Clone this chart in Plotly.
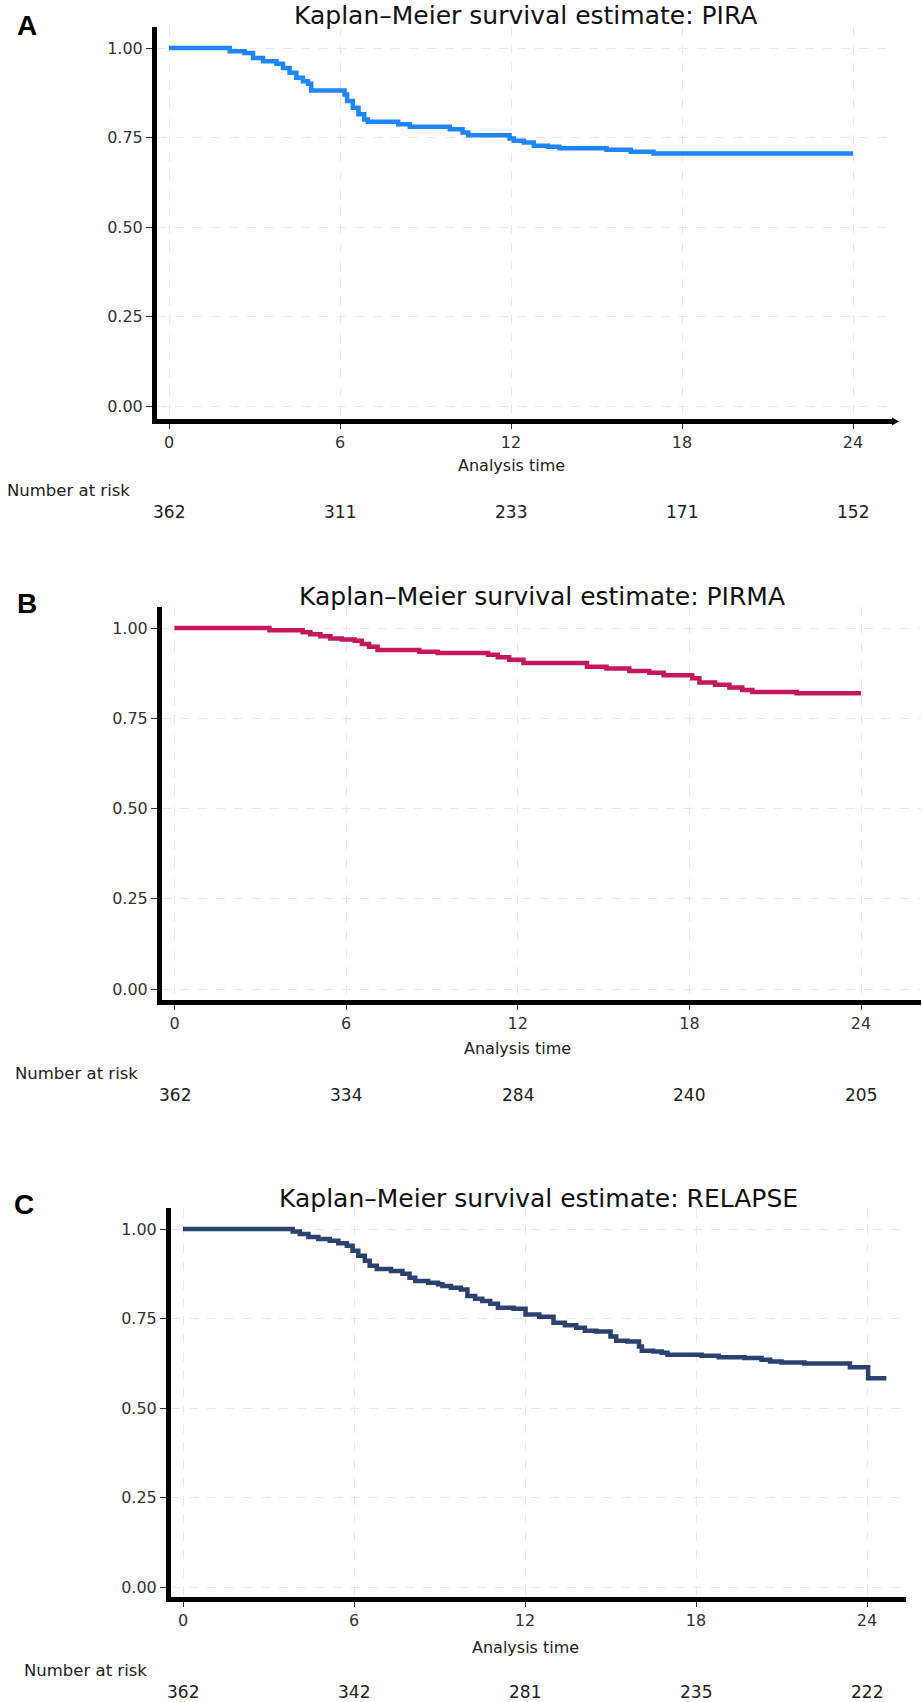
import plotly.graph_objects as go

# ---------------- data ----------------
# Kaplan-Meier step points: time (months) at which the survival estimate changes, value after the change
pira_time = [0, 2.13, 2.65, 2.95, 3.3, 3.77, 4.0, 4.23, 4.47, 4.70, 4.88, 4.99, 6.16, 6.25, 6.45,
             6.65, 6.85, 6.98, 8.04, 8.45, 9.85, 10.3, 10.5, 11.95, 12.1, 12.45, 12.8, 13.3, 13.7,
             15.35, 16.2, 17.0, 24.0]
pira_surv = [1.0, 0.991, 0.986, 0.972, 0.963, 0.956, 0.944, 0.931, 0.917, 0.907, 0.900, 0.881, 0.870,
             0.852, 0.833, 0.815, 0.800, 0.794, 0.787, 0.780, 0.773, 0.764, 0.756, 0.747, 0.741, 0.736,
             0.727, 0.724, 0.720, 0.716, 0.710, 0.705, 0.705]

pirma_time = [0, 3.32, 4.48, 4.75, 5.1, 5.45, 5.85, 6.3, 6.55, 6.8, 7.1, 8.56, 9.2, 10.96, 11.3, 11.7,
              12.2, 14.42, 15.1, 15.9, 16.6, 17.1, 18.1, 18.35, 18.9, 19.4, 19.85, 20.2, 21.75, 24.0]
pirma_surv = [1.0, 0.994, 0.988, 0.983, 0.977, 0.971, 0.968, 0.965, 0.956, 0.948, 0.939, 0.934, 0.931,
              0.926, 0.919, 0.912, 0.903, 0.893, 0.888, 0.881, 0.876, 0.869, 0.861, 0.849, 0.843, 0.835,
              0.828, 0.823, 0.819, 0.819]

relapse_time = [0, 3.85, 4.1, 4.4, 4.75, 5.15, 5.45, 5.75, 5.95, 6.15, 6.38, 6.55, 6.8, 7.3, 7.7, 7.95,
                8.15, 8.6, 8.95, 9.1, 9.4, 9.75, 9.98, 10.25, 10.5, 10.78, 11.05, 11.6, 12.02, 12.5, 13.0,
                13.4, 13.8, 14.1, 14.5, 15.0, 15.2, 15.6, 16.0, 16.1, 16.5, 16.8, 17.0, 18.2, 18.8, 19.7,
                20.3, 20.6, 21.0, 21.8, 23.4, 24.04, 24.68]
relapse_surv = [1.0, 0.993, 0.986, 0.978, 0.972, 0.967, 0.960, 0.953, 0.939, 0.925, 0.911, 0.897, 0.888,
                0.883, 0.875, 0.864, 0.855, 0.850, 0.846, 0.841, 0.836, 0.831, 0.813, 0.805, 0.799, 0.791,
                0.780, 0.777, 0.761, 0.755, 0.738, 0.731, 0.724, 0.716, 0.714, 0.700, 0.688, 0.686, 0.672,
                0.660, 0.658, 0.654, 0.649, 0.646, 0.642, 0.640, 0.635, 0.630, 0.627, 0.624, 0.614, 0.583,
                0.583]

risk_times = [0, 6, 12, 18, 24]
pira_at_risk = [362, 311, 233, 171, 152]
pirma_at_risk = [362, 334, 284, 240, 205]
relapse_at_risk = [362, 342, 281, 235, 222]

y_ticks = [0, 0.25, 0.5, 0.75, 1.0]
y_tick_text = ["0.00", "0.25", "0.50", "0.75", "1.00"]
x_ticks = [0, 6, 12, 18, 24]

panel_letters = ["A", "B", "C"]
titles = ["Kaplan–Meier survival estimate: PIRA",
          "Kaplan–Meier survival estimate: PIRMA",
          "Kaplan–Meier survival estimate: RELAPSE"]
colors = ["#1F86FF", "#C4185A", "#2B4170"]

# ---------------- layout geometry (pixels) ----------------
W, H = 922, 1702
geom = [
    dict(left=157, right=893, top=27, bottom=419, x0=169, x24=853, y1=48, y0=406, arrow=True,
         letter=(27, 26), title_y=16, tick_y=439, axt_y=465, nr_x=5, nr_y=490, num_y=512),
    dict(left=162, right=921, top=607, bottom=1000, x0=174.5, x24=861, y1=628, y0=989, arrow=False,
         letter=(27, 604), title_y=596, tick_y=1022, axt_y=1048, nr_x=13, nr_y=1073, num_y=1095),
    dict(left=171, right=906, top=1208, bottom=1597, x0=183, x24=867, y1=1229, y0=1587, arrow=False,
         letter=(24, 1204), title_y=1198, tick_y=1620, axt_y=1647, nr_x=22, nr_y=1670, num_y=1692),
]

series = [(pira_time, pira_surv, pira_at_risk),
          (pirma_time, pirma_surv, pirma_at_risk),
          (relapse_time, relapse_surv, relapse_at_risk)]

FONT = "DejaVu Sans"
fig = go.Figure()
annotations = []
shapes = []
layout_axes = {}

for i, (g, (t, s, nr)) in enumerate(zip(geom, series)):
    n = "" if i == 0 else str(i + 1)
    ppm = (g["x24"] - g["x0"]) / 24.0
    xr = [(g["left"] - g["x0"]) / ppm, (g["right"] - g["x0"]) / ppm]
    ppu = g["y0"] - g["y1"]
    yr = [-(g["bottom"] - g["y0"]) / ppu, 1 + (g["y1"] - g["top"]) / ppu]

    fig.add_trace(go.Scatter(x=t, y=s, mode="lines", line=dict(color=colors[i], width=4.5, shape="hv"),
                             xaxis="x" + n, yaxis="y" + n, showlegend=False, hoverinfo="skip"))

    layout_axes["xaxis" + n] = dict(
        domain=[g["left"] / W, g["right"] / W], range=xr, anchor="y" + n,
        tickvals=x_ticks, ticktext=[str(v) for v in x_ticks], ticks="outside", ticklen=5,
        tickwidth=1, tickcolor="#333333", showline=True, linecolor="black", linewidth=5,
        showgrid=True, gridcolor="#E8E8E8", griddash="dash", gridwidth=1, zeroline=False,
        tickfont=dict(family=FONT, size=16, color="#333333"), fixedrange=True)
    layout_axes["yaxis" + n] = dict(
        domain=[1 - g["bottom"] / H, 1 - g["top"] / H], range=yr, anchor="x" + n,
        tickvals=y_ticks, ticktext=y_tick_text, ticks="outside", ticklen=6, tickwidth=1,
        tickcolor="#333333", showline=True, linecolor="black", linewidth=5,
        showgrid=True, gridcolor="#E8E8E8", griddash="dash", gridwidth=1, zeroline=False,
        tickfont=dict(family=FONT, size=16, color="#333333"), fixedrange=True)

    if g["arrow"]:
        # pointed end of the x-axis line
        xe = g["right"] / W
        yb = 1 - (g["bottom"] + 2.5) / H
        shapes.append(dict(type="path", xref="paper", yref="paper",
                           path="M %f %f L %f %f L %f %f Z" % (xe - 1 / W, yb + 4 / H, xe + 6 / W, yb,
                                                              xe - 1 / W, yb - 4 / H),
                           fillcolor="black", line=dict(width=0)))

    # panel letter
    annotations.append(dict(text="<b>%s</b>" % panel_letters[i], x=g["letter"][0] / W, y=1 - g["letter"][1] / H,
                            xref="paper", yref="paper", xanchor="center", yanchor="middle", showarrow=False,
                            font=dict(family="Liberation Sans", size=28, color="black")))
    # title
    annotations.append(dict(text=titles[i], x=(g["left"] + g["right"]) / 2 / W, y=1 - g["title_y"] / H,
                            xref="paper", yref="paper", xanchor="center", yanchor="middle", showarrow=False,
                            font=dict(family=FONT, size=25, color="#111111")))
    # x axis title
    annotations.append(dict(text="Analysis time", x=12, xref="x" + n, y=1 - g["axt_y"] / H, yref="paper",
                            xanchor="center", yanchor="middle", showarrow=False,
                            font=dict(family=FONT, size=16, color="#222222")))
    # number at risk label
    annotations.append(dict(text="Number at risk", x=g["nr_x"] / W, y=1 - g["nr_y"] / H, xref="paper",
                            yref="paper", xanchor="left", yanchor="middle", showarrow=False,
                            font=dict(family=FONT, size=16.5, color="#222222")))
    for tv, val in zip(risk_times, nr):
        annotations.append(dict(text=str(val), x=tv, xref="x" + n, y=1 - g["num_y"] / H, yref="paper",
                                xanchor="center", yanchor="middle", showarrow=False,
                                font=dict(family=FONT, size=17, color="#222222")))

fig.update_layout(width=W, height=H, margin=dict(l=0, r=0, t=0, b=0), plot_bgcolor="white",
                  paper_bgcolor="white", annotations=annotations, shapes=shapes, **layout_axes)

fig.write_html("out.html", config={"displayModeBar": False},
               post_script="document.body.style.margin='0';document.body.style.overflow='hidden';")
